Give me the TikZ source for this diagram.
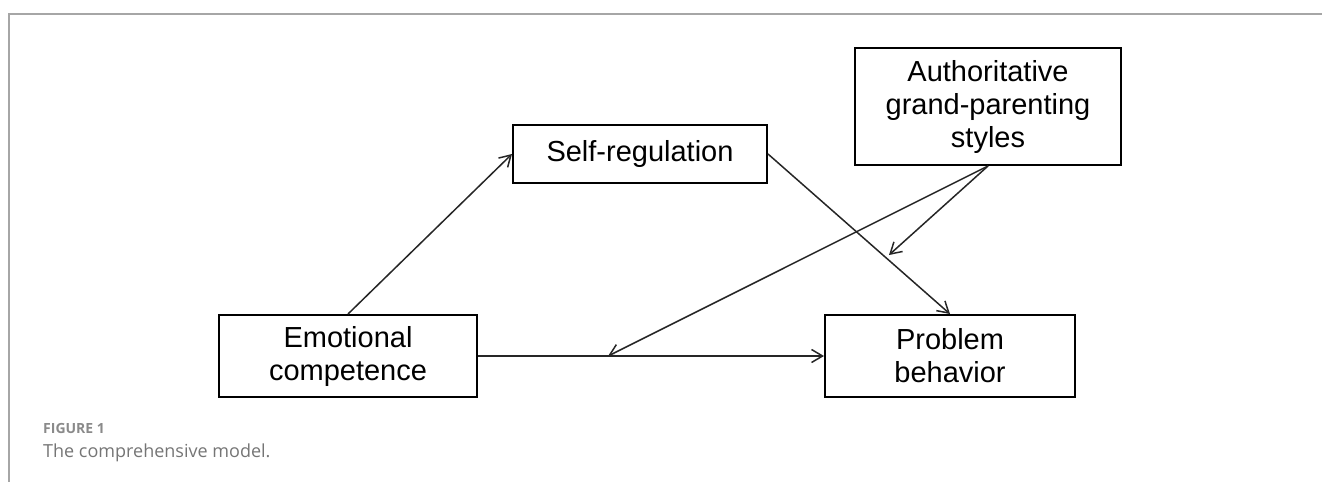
\documentclass[tikz,border=0pt]{standalone}
\usepackage{fontspec}
\setmainfont{Liberation Sans}
\newfontfamily\capfont{Open Sans}
\usetikzlibrary{arrows.meta,calc}
\definecolor{framegray}{HTML}{A6A6A6}
\definecolor{capgray}{HTML}{757575}
\definecolor{capgrayb}{HTML}{8A8A8A}
\begin{document}
\begin{tikzpicture}[x=1pt,y=-1pt,
  boxnode/.style={draw=black,line width=2pt,align=center,inner sep=0pt,
    font=\fontsize{29}{33}\selectfont,text=black},
  arr/.style={line width=1.5pt,draw=black!85,-{Straight Barb[length=11pt,width=13pt,line width=1.5pt]}},
  frameline/.style={draw=framegray,line width=2pt}]
\useasboundingbox (0,0) rectangle (1322,482);
\draw[frameline] (1322,14) -- (9,14) -- (9,482);
\node[boxnode,minimum width=254pt,minimum height=58pt] (selfreg) at (640,154) {Self-regulation};
\node[boxnode,minimum width=266pt,minimum height=117pt] (auth) at (988,106.5) {Authoritative\\grand-parenting\\styles};
\node[boxnode,minimum width=258pt,minimum height=82pt] (emo) at (348,356) {Emotional\\competence};
\node[boxnode,minimum width=250pt,minimum height=82pt] (prob) at (950,356) {Problem\\behavior};
\coordinate (m1) at ($(emo.east)!0.376!(prob.west)$);
\coordinate (m2) at (889,255);
\draw[arr] (emo.north) -- (selfreg.west);
\draw[arr] (selfreg.east) -- (prob.north);
\draw[arr] (emo.east) -- (prob.west);
\draw[arr] (auth.south) -- (m1);
\draw[arr] (auth.south) -- (m2);
\node[anchor=base west,inner sep=0pt,font=\capfont\fontsize{14}{16}\selectfont\bfseries,text=capgrayb] (figlabel) at (43,433) {FIGURE 1};
\node[anchor=base west,inner sep=0pt,font=\capfont\fontsize{18}{22}\selectfont,text=capgray] (figcap) at (43,457) {The comprehensive model.};
\end{tikzpicture}
\end{document}
